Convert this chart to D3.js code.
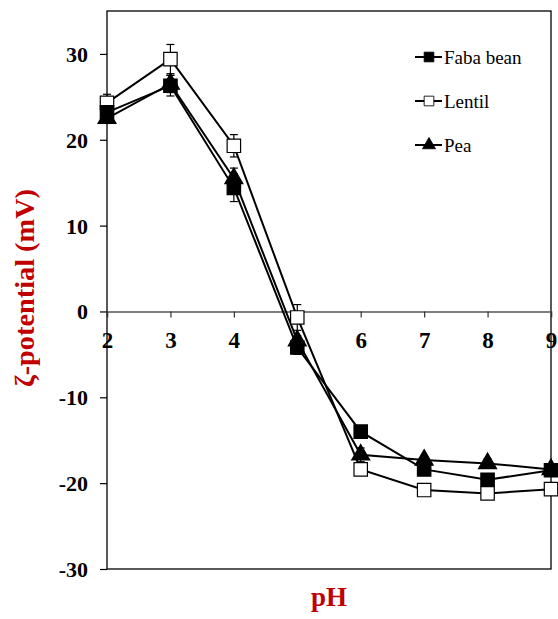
<!DOCTYPE html>
<html>
<head>
<meta charset="utf-8">
<script src="https://cdn.jsdelivr.net/npm/d3@7"></script>
<style>
  html, body { margin: 0; padding: 0; background: #fff; }
  svg { display: block; }
  text { font-family: "Liberation Serif", "DejaVu Serif", serif; }
</style>
</head>
<body>
<svg id="chart" width="558" height="619"></svg>
<script>
// ---- data ----
const pH = [2, 3, 4, 5, 6, 7, 8, 9];
const fabaBean = [23.2, 26.3, 14.4, -4.2, -14.0, -18.4, -19.6, -18.5];
const lentil   = [24.3, 29.4, 19.3, -0.7, -18.4, -20.8, -21.2, -20.7];
const pea      = [22.5, 26.5, 15.5, -3.4, -16.7, -17.3, -17.7, -18.4];
const fabaErr   = [0.8, 1.2, 1.6, 0.8, 0.6, 0.5, 0.5, 0.5];
const lentilErr = [1.0, 1.7, 1.3, 1.5, 0.5, 0.4, 0.4, 0.5];
const peaErr    = [0.6, 1.0, 1.2, 0.6, 0.8, 0.4, 0.5, 0.4];
const seriesNames = ["Faba bean", "Lentil", "Pea"];
const yTicks = [-30, -20, -10, 0, 10, 20, 30];
const yTickLabels = ["-30", "-20", "-10", "0", "10", "20", "30"];
const xTicks = [2, 3, 4, 5, 6, 7, 8, 9];
const xTickLabels = ["2", "3", "4", "", "6", "7", "8", "9"];
const yTitle = "ζ-potential (mV)";
const xTitle = "pH";

// ---- layout ----
const pLeft = 107, pRight = 551, pTop = 11, pBottom = 569;
const svg = d3.select("#chart");
const x = d3.scaleLinear().domain([2, 9]).range([pLeft, pRight]);
const y = d3.scaleLinear().domain([-30, 35]).range([pBottom, pTop]);

const series = [
  { name: seriesNames[1], vals: lentil, err: lentilErr, shape: "square", fill: "#fff" },
  { name: seriesNames[2], vals: pea, err: peaErr, shape: "triangle", fill: "#000" },
  { name: seriesNames[0], vals: fabaBean, err: fabaErr, shape: "square", fill: "#000" }
];

// frame
svg.append("rect")
  .attr("x", pLeft).attr("y", pTop)
  .attr("width", pRight - pLeft).attr("height", pBottom - pTop)
  .attr("fill", "none").attr("stroke", "#000").attr("stroke-width", 1.3);

// y axis
const yAxis = d3.axisLeft(y).tickValues(yTicks).tickSize(7).tickPadding(12)
  .tickFormat((d, i) => yTickLabels[i]);
const gy = svg.append("g").attr("transform", `translate(${pLeft},0)`).call(yAxis);
gy.select(".domain").remove();
gy.selectAll(".tick line").attr("stroke", "#000").attr("stroke-width", 1.2);
gy.selectAll(".tick text")
  .attr("fill", "#000")
  .style("font-size", "22px").style("font-weight", "bold")
  .attr("dy", "0.34em");

// x axis at y=0
const xAxis = d3.axisBottom(x).tickValues(xTicks).tickSize(6)
  .tickFormat((d, i) => xTickLabels[i]);
const gx = svg.append("g").attr("transform", `translate(0,${y(0)})`).call(xAxis);
gx.select(".domain").attr("stroke", "#555").attr("stroke-width", 1.5);
gx.selectAll(".tick line").attr("stroke", "#333").attr("stroke-width", 1.2);
gx.selectAll(".tick text")
  .attr("fill", "#000")
  .attr("y", 37).attr("dy", 0)
  .style("font-size", "23px").style("font-weight", "bold");

// axis titles
svg.append("text")
  .attr("transform", `translate(34,${(pTop + pBottom) / 2 - 2}) rotate(-90)`)
  .attr("text-anchor", "middle")
  .attr("fill", "#c00000")
  .attr("textLength", 198).attr("lengthAdjust", "spacingAndGlyphs")
  .style("font-size", "27px").style("font-weight", "bold")
  .text(yTitle);
svg.append("text")
  .attr("x", (pLeft + pRight) / 2).attr("y", 606)
  .attr("text-anchor", "middle")
  .attr("fill", "#c00000")
  .style("font-size", "27px").style("font-weight", "bold")
  .text(xTitle);

// lines
const line = d3.line().x((d, i) => x(pH[i])).y(d => y(d));
series.forEach(s => {
  svg.append("path").datum(s.vals)
    .attr("d", line).attr("fill", "none")
    .attr("stroke", "#000").attr("stroke-width", 2);
});

// error bars
series.forEach(s => {
  const g = svg.append("g").attr("stroke", "#000").attr("stroke-width", 1.2);
  s.vals.forEach((v, i) => {
    const cx = x(pH[i]);
    const y1 = y(v + s.err[i]), y2 = y(v - s.err[i]);
    g.append("line").attr("x1", cx).attr("x2", cx).attr("y1", y1).attr("y2", y2);
    g.append("line").attr("x1", cx - 4).attr("x2", cx + 4).attr("y1", y1).attr("y2", y1);
    g.append("line").attr("x1", cx - 4).attr("x2", cx + 4).attr("y1", y2).attr("y2", y2);
  });
});

// markers
const sqSym = d3.symbol().type(d3.symbolSquare).size(180);
const triSym = d3.symbol().type(d3.symbolTriangle).size(140);
function marker(g, shape, fill, cx, cy, scale) {
  g.append("path")
    .attr("d", (shape === "square" ? sqSym : triSym)())
    .attr("transform", `translate(${cx},${cy}) scale(${scale || 1})`)
    .attr("fill", fill).attr("stroke", "#000").attr("stroke-width", 1.2);
}
series.forEach(s => {
  const g = svg.append("g");
  s.vals.forEach((v, i) => marker(g, s.shape, s.fill, x(pH[i]), y(v)));
});

// legend
const legendItems = [
  { name: seriesNames[0], shape: "square", fill: "#000" },
  { name: seriesNames[1], shape: "square", fill: "#fff" },
  { name: seriesNames[2], shape: "triangle", fill: "#000" }
];
const lg = svg.append("g");
legendItems.forEach((it, i) => {
  const cy = 57 + i * 44;
  lg.append("line").attr("x1", 415).attr("x2", 442).attr("y1", cy).attr("y2", cy)
    .attr("stroke", "#000").attr("stroke-width", 2);
  marker(lg, it.shape, it.fill, 429, cy, 0.72);
  lg.append("text").attr("x", 444).attr("y", cy + 7)
    .style("font-size", "19px").attr("fill", "#000").text(it.name);
});
</script>
</body>
</html>
